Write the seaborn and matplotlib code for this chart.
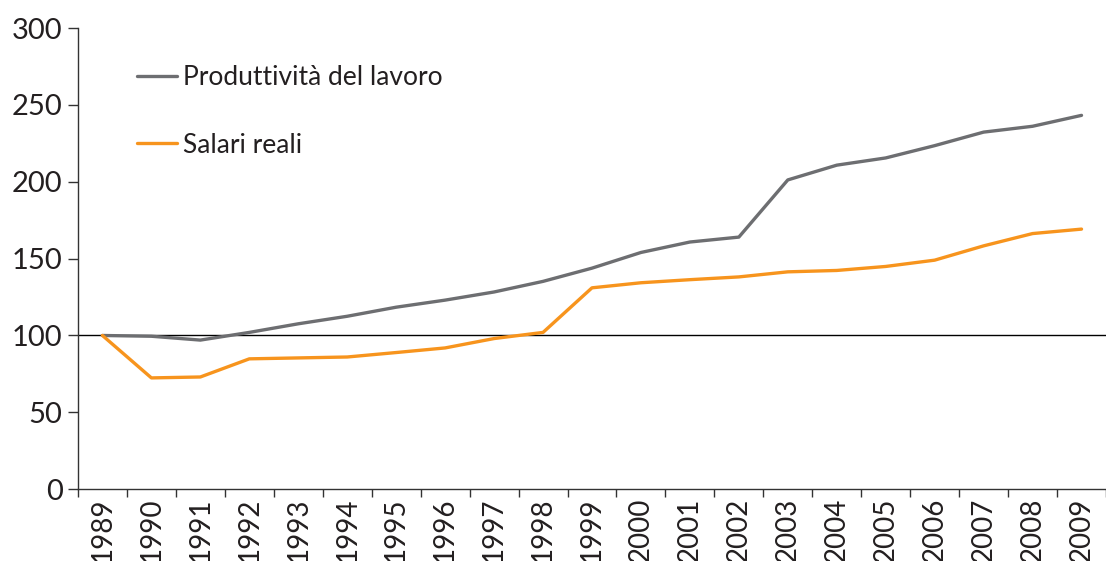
import matplotlib
matplotlib.use("Agg")
import matplotlib.pyplot as plt
from matplotlib.ticker import FixedLocator, NullFormatter
import pandas as pd
import seaborn as sns

years = [str(y) for y in range(1989, 2010)]
produttivita = [100, 99.5, 97, 102, 107.6, 112.5, 118.4, 123, 128.3, 135.2, 143.8,
                154, 160.8, 164, 201.2, 210.8, 215.5, 223.5, 232.3, 236.1, 243.2]
salari = [100, 72.4, 73, 84.8, 85.4, 86, 88.9, 91.9, 98, 102, 131,
          134.3, 136.3, 138.1, 141.4, 142.3, 144.9, 149, 158.3, 166.3, 169.2]
series_names = ["Produttività del lavoro", "Salari reali"]
colors = ["#6d6e71", "#f7941d"]
y_ticks = [0, 50, 100, 150, 200, 250, 300]

df = pd.DataFrame({
    "pos": list(range(len(years))) * 2,
    "valore": produttivita + salari,
    "serie": [series_names[0]] * len(years) + [series_names[1]] * len(years),
})

sns.set_theme(style="white")
plt.rcParams["font.family"] = ["Lato", "DejaVu Sans"]

fig = plt.figure(figsize=(11.06, 5.61), dpi=100)
ax = fig.add_axes([0.0705, 0.128, 0.9295, 0.822])

ax.axhline(100, color="black", lw=1.0, zorder=1)
sns.lineplot(data=df, x="pos", y="valore", hue="serie", palette=colors,
             hue_order=series_names, linewidth=2.4, ax=ax, zorder=3)

ax.set_xlim(-0.5, len(years) - 0.5)
ax.set_ylim(0, 300)
ax.set_yticks(y_ticks)
ax.set_yticklabels([str(v) for v in y_ticks], fontsize=21, color="#231f20")
ax.set_xticks(range(len(years)))
ax.set_xticklabels(years, rotation=90, fontsize=20, color="#231f20")
ax.xaxis.set_minor_locator(FixedLocator([i - 0.5 for i in range(len(years) + 1)]))
ax.xaxis.set_minor_formatter(NullFormatter())
ax.tick_params(axis="x", which="major", length=0, pad=6)
ax.tick_params(axis="x", which="minor", length=6, width=1, color="#333333", direction="out", bottom=True)
ax.tick_params(axis="y", length=7, width=1, color="#333333", direction="out", left=True, pad=4)

ax.set_xlabel("")
ax.set_ylabel("")
for side in ["top", "right"]:
    ax.spines[side].set_visible(False)
for side in ["left", "bottom"]:
    ax.spines[side].set_color("#333333")
    ax.spines[side].set_linewidth(1.0)

leg = ax.legend(loc="upper left", bbox_to_anchor=(0.057, 0.92), frameon=False,
                fontsize=19, handlelength=1.55, handletextpad=0.2, labelspacing=1.62,
                borderaxespad=0, borderpad=0)
for t in leg.get_texts():
    t.set_color("#231f20")

fig.savefig("out.png", dpi=100)
